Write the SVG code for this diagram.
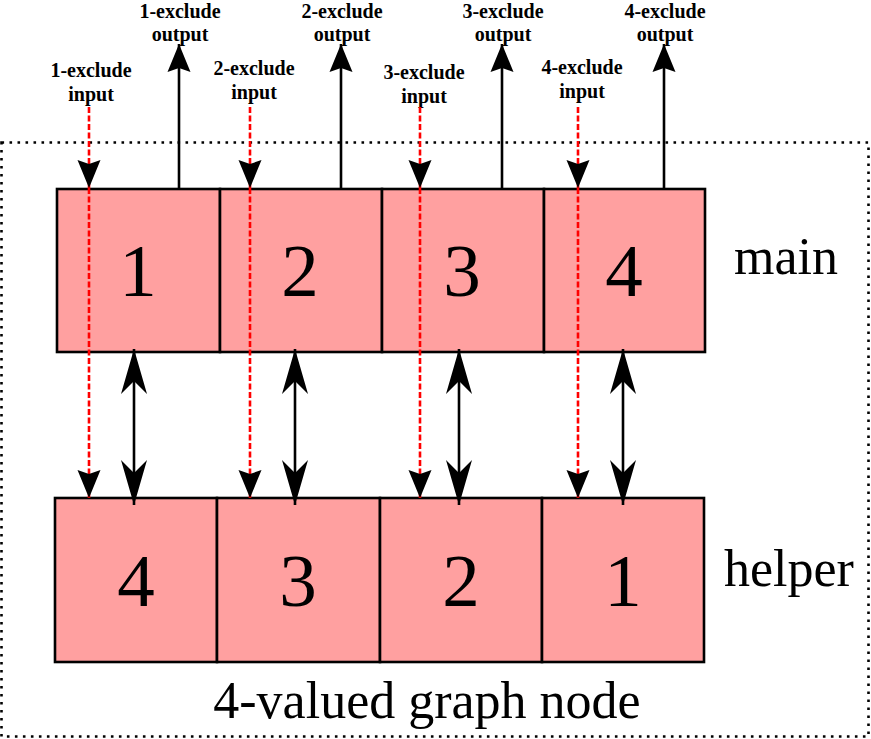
<svg xmlns="http://www.w3.org/2000/svg" width="871" height="739" viewBox="0 0 871 739">
<style>
.box{fill:#ffa0a0;stroke:#000;stroke-width:2.6}
.num{font-family:"Liberation Serif","Times New Roman",serif;font-size:75px;text-anchor:middle;fill:#000}
.big{font-family:"Liberation Serif","Times New Roman",serif;font-size:52px;fill:#000}
.lab{font-family:"Liberation Serif","Times New Roman",serif;font-size:20px;font-weight:bold;text-anchor:middle;fill:#000}
.blk{stroke:#000;stroke-width:2.6;fill:none}
.red{stroke:#ff0000;stroke-width:2.6;stroke-dasharray:6 2.5;fill:none}
.frame{fill:none;stroke:#000;stroke-width:2.6;stroke-dasharray:2.6 5.4}
</style>
<defs>
<marker id="ah" markerUnits="userSpaceOnUse" viewBox="0 -12 28 24" refX="28" refY="0" markerWidth="28" markerHeight="24" orient="auto">
<path d="M0,-11.5 L28,0 L0,11.5 L4,0 z" fill="#000"/>
</marker>
<marker id="ahb" markerUnits="userSpaceOnUse" viewBox="0 -14 46 28" refX="45" refY="0" markerWidth="46" markerHeight="28" orient="auto-start-reverse">
<path d="M0,-13 L45,0 L0,13 L13,0 z" fill="#000"/>
</marker>
</defs>
<g id="container">
<rect class="frame" x="1.5" y="142.5" width="867" height="594"/>
<text class="big" x="427" y="718" text-anchor="middle">4-valued graph node</text>
</g>
<g id="main-1"><rect class="box" x="57" y="189" width="163" height="163"/><text class="num" x="138" y="296">1</text></g>
<g id="main-2"><rect class="box" x="220" y="189" width="162" height="163"/><text class="num" x="300" y="296">2</text></g>
<g id="main-3"><rect class="box" x="382" y="189" width="162" height="163"/><text class="num" x="462" y="296">3</text></g>
<g id="main-4"><rect class="box" x="544" y="189" width="161" height="163"/><text class="num" x="624" y="296">4</text></g>
<g id="main-label"><text class="big" x="734" y="274">main</text></g>
<g id="helper-1"><rect class="box" x="55" y="498" width="162" height="164"/><text class="num" x="136" y="606">4</text></g>
<g id="helper-2"><rect class="box" x="217" y="498" width="163" height="164"/><text class="num" x="298" y="606">3</text></g>
<g id="helper-3"><rect class="box" x="380" y="498" width="162" height="164"/><text class="num" x="461" y="606">2</text></g>
<g id="helper-4"><rect class="box" x="542" y="498" width="162" height="164"/><text class="num" x="623" y="606">1</text></g>
<g id="helper-label"><text class="big" x="724" y="586">helper</text></g>
<g id="labels">
<text class="lab" x="180" y="18">1-exclude</text><text class="lab" x="180" y="41">output</text>
<text class="lab" x="342" y="18">2-exclude</text><text class="lab" x="342" y="41">output</text>
<text class="lab" x="503" y="18">3-exclude</text><text class="lab" x="503" y="41">output</text>
<text class="lab" x="665" y="18">4-exclude</text><text class="lab" x="665" y="41">output</text>
<text class="lab" x="91" y="77">1-exclude</text><text class="lab" x="91" y="101">input</text>
<text class="lab" x="254" y="75">2-exclude</text><text class="lab" x="254" y="99">input</text>
<text class="lab" x="424" y="79">3-exclude</text><text class="lab" x="424" y="103">input</text>
<text class="lab" x="582" y="74">4-exclude</text><text class="lab" x="582" y="98">input</text>
</g>
<g id="connectors">
<path class="blk" d="M179,189 V44" marker-end="url(#ah)"/>
<path class="blk" d="M341,189 V44" marker-end="url(#ah)"/>
<path class="blk" d="M502,189 V44" marker-end="url(#ah)"/>
<path class="blk" d="M664,189 V44" marker-end="url(#ah)"/>
<path class="red" d="M89,107 V188" marker-end="url(#ah)"/>
<path class="red" d="M250,107 V188" marker-end="url(#ah)"/>
<path class="red" d="M420,107 V188" marker-end="url(#ah)"/>
<path class="red" d="M578,107 V188" marker-end="url(#ah)"/>
<path class="red" d="M89,188 V498" marker-end="url(#ah)"/>
<path class="red" d="M250,188 V498" marker-end="url(#ah)"/>
<path class="red" d="M420,188 V498" marker-end="url(#ah)"/>
<path class="red" d="M578,188 V498" marker-end="url(#ah)"/>
<path class="blk" d="M134,349 V505" marker-start="url(#ahb)" marker-end="url(#ahb)"/>
<path class="blk" d="M295,349 V505" marker-start="url(#ahb)" marker-end="url(#ahb)"/>
<path class="blk" d="M459,349 V505" marker-start="url(#ahb)" marker-end="url(#ahb)"/>
<path class="blk" d="M623,349 V505" marker-start="url(#ahb)" marker-end="url(#ahb)"/>
</g>
</svg>
